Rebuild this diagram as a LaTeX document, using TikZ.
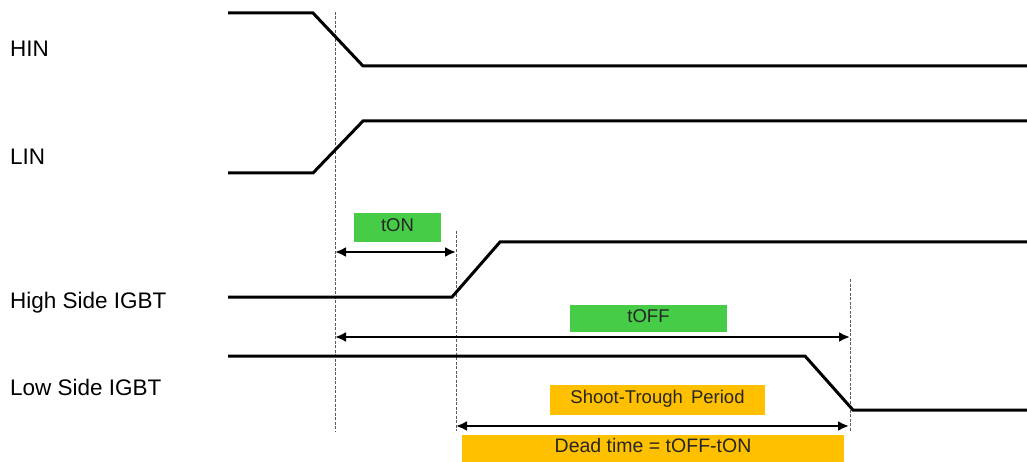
\documentclass[tikz,border=0pt]{standalone}
\usepackage{fontspec}
\setmainfont{Liberation Sans}
\usetikzlibrary{arrows.meta}
\definecolor{tgreen}{RGB}{70,204,70}
\definecolor{tamber}{RGB}{255,192,0}
\definecolor{guide}{RGB}{90,90,90}
\tikzset{
  wave/.style={line width=3pt, line join=miter},
  guideline/.style={guide, line width=0.7pt, dash pattern=on 3pt off 1.5pt},
  span/.style={line width=2.8pt, {Latex[length=11pt,width=10pt]}-{Latex[length=11pt,width=10pt]}},
  sig/.style={anchor=base west, font=\fontsize{22.5}{26}\selectfont, inner sep=0pt},
  tag/.style={inner sep=0pt, text height=0.72em, text depth=0pt, font=\fontsize{18.5}{22}\selectfont, text=black!85},
}
\begin{document}
\begin{tikzpicture}[x=1pt, y=-1pt]
\useasboundingbox (0,0) rectangle (1027,462);

% signal names
\node[sig] (hin)  at (10,56.5)  {HIN};
\node[sig] (lin)  at (10,165)   {LIN};
\node[sig] (hsi)  at (10,308)   {High Side IGBT};
\node[sig] (lsi)  at (10,395)   {Low Side IGBT};

% timing guides
\coordinate (g1t) at (335,12);  \coordinate (g1b) at (335,431);
\coordinate (g2t) at (456,231); \coordinate (g2b) at (456,431);
\coordinate (g3t) at (850,279); \coordinate (g3b) at (850,431);
\draw[guideline] (g1t) -- (g1b);
\draw[guideline] (g2t) -- (g2b);
\draw[guideline] (g3t) -- (g3b);

% waveforms
\draw[wave] (228,13) -- (313,13) -- (363,66) -- (1027,66);
\draw[wave] (228,173) -- (313,173) -- (363,121) -- (1027,121);
\draw[wave] (228,297) -- (452,297) -- (500,242) -- (1027,242);
\draw[wave] (228,356) -- (805,356) -- (853,410) -- (1027,410);

% interval markers
\coordinate (ona) at (335,252);  \coordinate (onb) at (456,252);
\coordinate (offa) at (335,337); \coordinate (offb) at (850,337);
\coordinate (dta) at (456,426);  \coordinate (dtb) at (849,426);
\draw[span] (ona) -- (onb);
\draw[span] (offa) -- (offb);
\draw[span] (dta) -- (dtb);

% interval labels
\node[tag, fill=tgreen, minimum width=87pt, minimum height=29pt] (ton) at (397.5,227.5) {tON};
\node[tag, fill=tgreen, minimum width=157pt, minimum height=27pt] (toff) at (648.5,318.5) {tOFF};
\node[tag, fill=tamber, minimum width=215pt, minimum height=30pt] (stp) at (657.5,400) {Shoot-Trough\, Period};
\node[tag, fill=tamber, minimum width=382pt, minimum height=28pt, font=\fontsize{19.5}{22}\selectfont] (dt) at (653,449) {Dead time = tOFF-tON};
\end{tikzpicture}
\end{document}
